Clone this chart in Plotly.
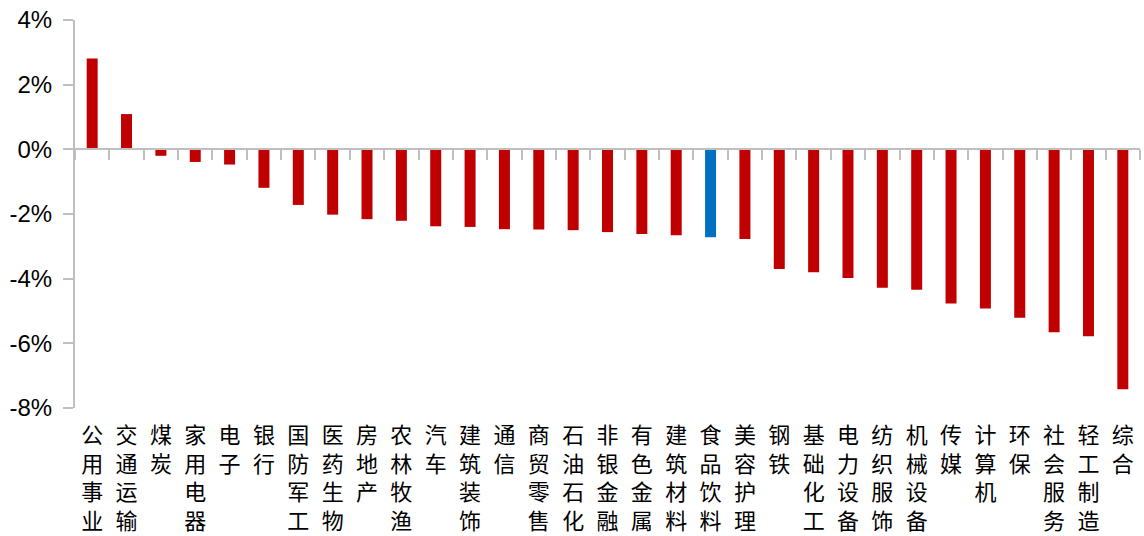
import plotly.graph_objects as go

categories = ["公用事业", "交通运输", "煤炭", "家用电器", "电子", "银行", "国防军工", "医药生物",
              "房地产", "农林牧渔", "汽车", "建筑装饰", "通信", "商贸零售", "石油石化", "非银金融",
              "有色金属", "建筑材料", "食品饮料", "美容护理", "钢铁", "基础化工", "电力设备",
              "纺织服饰", "机械设备", "传媒", "计算机", "环保", "社会服务", "轻工制造", "综合"]
values = [2.81, 1.09, -0.20, -0.39, -0.47, -1.19, -1.72, -2.02,
          -2.16, -2.21, -2.38, -2.40, -2.47, -2.48, -2.50, -2.56,
          -2.62, -2.66, -2.72, -2.77, -3.70, -3.80, -3.98,
          -4.28, -4.34, -4.77, -4.92, -5.21, -5.66, -5.78, -7.42]
highlight = "食品饮料"
y_ticks = [-8, -6, -4, -2, 0, 2, 4]
y_ticktext = [f"{v}%" for v in y_ticks]

RED = "#C00000"
BLUE = "#0070C0"
GRAY = "#BFBFBF"

colors = [BLUE if c == highlight else RED for c in categories]
labels = ["<br>".join(list(c)) for c in categories]

fig = go.Figure()
fig.add_trace(go.Bar(x=categories, y=values, marker=dict(color=colors, line=dict(width=0)),
                     xaxis="x", yaxis="y", showlegend=False))
# invisible trace carrying the category labels on the bottom axis
fig.add_trace(go.Scatter(x=categories, y=values, mode="markers", marker=dict(opacity=0),
                         xaxis="x2", yaxis="y", showlegend=False, hoverinfo="skip"))

ymin, ymax = -8, 4
fig.update_layout(
    width=1144, height=536,
    margin=dict(l=75, r=4, t=20, b=128, autoexpand=False),
    paper_bgcolor="white", plot_bgcolor="white",
    bargap=0.68,
    xaxis=dict(type="category", range=[-0.5, len(categories) - 0.5],
               anchor="free", position=(0 - ymin) / (ymax - ymin),
               showline=True, linecolor=GRAY, linewidth=2,
               ticks="outside", tickson="boundaries", ticklen=10, tickcolor=GRAY, tickwidth=2,
               showticklabels=False, showgrid=False, zeroline=False),
    xaxis2=dict(type="category", range=[-0.5, len(categories) - 0.5],
                overlaying="x", anchor="y", side="bottom",
                tickvals=categories, ticktext=labels,
                showline=False, ticks="", showgrid=False, zeroline=False,
                tickfont=dict(family="Noto Sans CJK SC", size=22, color="black"),
                ticklabelstandoff=12),
    yaxis=dict(range=[ymin, ymax], tickvals=y_ticks, ticktext=y_ticktext,
               showline=True, linecolor=GRAY, linewidth=2,
               ticks="outside", ticklen=10, tickcolor=GRAY, tickwidth=2,
               showgrid=False, zeroline=False,
               tickfont=dict(family="Liberation Sans, Arial", size=24, color="black"),
               ticklabelstandoff=6),
)

fig.write_html("out.html", config={"displayModeBar": False},
               post_script="document.body.style.margin='0';")
